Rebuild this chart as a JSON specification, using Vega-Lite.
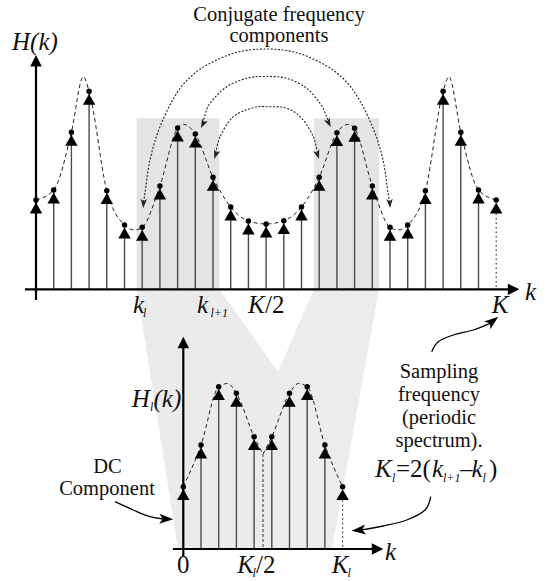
{
"$schema": "https://vega.github.io/schema/vega-lite/v6.json",
"width": 548, "height": 581, "padding": 0,
"autosize": {"type": "fit", "contains": "padding"},
"background": "white",
"config": {"view": {"stroke": null}, "text": {"font": "Liberation Serif, Times New Roman, DejaVu Serif, serif"}},
"datasets": {
"rects": [{"x":136.7,"x2":219.3,"y":118.3,"y2":289.3},{"x":314,"x2":379,"y":118.3,"y2":289.3}],
"bandL": [{"y":289.3,"x":136.7,"x2":219.3},{"y":372,"x":150,"x2":278},{"y":549,"x":178,"x2":278}],
"bandR": [{"y":289.3,"x":314,"x2":379},{"y":372,"x":278,"x2":364},{"y":549,"x":278,"x2":332}],
"top": [
{"k":0,"x":36,"y":200},{"k":1,"x":53.7,"y":190},{"k":2,"x":71.4,"y":132.3},{"k":3,"x":89.1,"y":91.3},
{"k":4,"x":106.8,"y":190.7},{"k":5,"x":124.5,"y":225},{"k":6,"x":142.2,"y":227.3},{"k":7,"x":159.9,"y":186},
{"k":8,"x":177.6,"y":128},{"k":9,"x":195.3,"y":134},{"k":10,"x":213,"y":177.3},{"k":11,"x":230.7,"y":207},
{"k":12,"x":248.4,"y":221},{"k":13,"x":266.1,"y":224},{"k":14,"x":283.8,"y":220.7},{"k":15,"x":301.5,"y":207},
{"k":16,"x":319.2,"y":177.3},{"k":17,"x":336.9,"y":132.7},{"k":18,"x":354.6,"y":128.3},{"k":19,"x":372.3,"y":186},
{"k":20,"x":390,"y":227.3},{"k":21,"x":407.7,"y":225},{"k":22,"x":425.4,"y":190.7},{"k":23,"x":443.1,"y":91.3},
{"k":24,"x":460.8,"y":132.3},{"k":25,"x":478.5,"y":190},{"k":26,"x":496.2,"y":200}],
"topEnv": [
{"x":36,"y":200},{"x":53.7,"y":190},{"x":71.4,"y":132.3},{"x":83.3,"y":76.7},{"x":89.1,"y":91.3},
{"x":106.8,"y":190.7},{"x":124.5,"y":225},{"x":134,"y":230},{"x":142.2,"y":227.3},{"x":159.9,"y":186},
{"x":177.6,"y":128},{"x":183.3,"y":124.3},{"x":195.3,"y":134},{"x":213,"y":177.3},{"x":230.7,"y":207},
{"x":248.4,"y":221},{"x":266.1,"y":224},{"x":283.8,"y":220.7},{"x":301.5,"y":207},{"x":319.2,"y":177.3},
{"x":336.9,"y":132.7},{"x":348.7,"y":124.3},{"x":354.6,"y":128.3},{"x":372.3,"y":186},{"x":390,"y":227.3},
{"x":398,"y":230},{"x":407.7,"y":225},{"x":425.4,"y":190.7},{"x":443.1,"y":91.3},{"x":448.9,"y":76.7},
{"x":460.8,"y":132.3},{"x":478.5,"y":190},{"x":496.2,"y":200}],
"bottom": [
{"k":0,"x":183.3,"y":486.7},{"k":1,"x":201,"y":445},{"k":2,"x":218.7,"y":386.7},{"k":3,"x":236.4,"y":393.3},
{"k":4,"x":254.1,"y":436.7},{"k":5,"x":271.8,"y":436.7},{"k":6,"x":289.5,"y":393.3},{"k":7,"x":307.2,"y":386.7},
{"k":8,"x":324.9,"y":445},{"k":9,"x":342.6,"y":486.7}],
"botEnv": [
{"s":"a","x":183.3,"y":486.7},{"s":"a","x":201,"y":445},{"s":"a","x":218.7,"y":386.7},{"s":"a","x":227.5,"y":383.5},
{"s":"a","x":236.4,"y":393.3},{"s":"a","x":254.1,"y":436.7},{"s":"a","x":263,"y":454},
{"s":"b","x":263,"y":454},{"s":"b","x":271.8,"y":436.7},{"s":"b","x":289.5,"y":393.3},{"s":"b","x":298.5,"y":383.5},
{"s":"b","x":307.2,"y":386.7},{"s":"b","x":324.9,"y":445},{"s":"b","x":342.6,"y":486.7}],
"mid": [{"x":263,"y":454,"y2":549}],
"axes": [{"x":36,"y":300,"x2":36,"y2":64},{"x":25,"y":289.3,"x2":510,"y2":289.3},
{"x":183.3,"y":557,"x2":183.3,"y2":346},{"x":173,"y":549,"x2":374,"y2":549}],
"axisHeads": [{"x":36,"y":55,"dir":0},{"x":519.3,"y":289.3,"dir":90},{"x":183.3,"y":336.7,"dir":0},{"x":383.3,"y":549,"dir":90}],
"arcs": [
{"arc":"o","i":0,"x":143.5,"y":202},{"arc":"o","i":1,"x":145,"y":193},{"arc":"o","i":2,"x":150,"y":160},
{"arc":"o","i":3,"x":160,"y":126.7},{"arc":"o","i":4,"x":176.7,"y":93.3},{"arc":"o","i":5,"x":195,"y":73},
{"arc":"o","i":6,"x":216.7,"y":60},{"arc":"o","i":7,"x":240,"y":51.5},{"arc":"o","i":8,"x":266,"y":49},
{"arc":"o","i":9,"x":292,"y":51.5},{"arc":"o","i":10,"x":315.3,"y":60},{"arc":"o","i":11,"x":337,"y":73},
{"arc":"o","i":12,"x":355.3,"y":93.3},{"arc":"o","i":13,"x":372.5,"y":126.7},{"arc":"o","i":14,"x":383,"y":160},
{"arc":"o","i":15,"x":388,"y":193},{"arc":"o","i":16,"x":389.8,"y":202},
{"arc":"m","i":0,"x":203,"y":123},{"arc":"m","i":1,"x":205,"y":115},{"arc":"m","i":2,"x":210,"y":103.3},
{"arc":"m","i":3,"x":226.7,"y":86.7},{"arc":"m","i":4,"x":246.7,"y":78.3},{"arc":"m","i":5,"x":265,"y":76.5},
{"arc":"m","i":6,"x":286.7,"y":78.3},{"arc":"m","i":7,"x":306.7,"y":88.3},{"arc":"m","i":8,"x":320,"y":103.3},
{"arc":"m","i":9,"x":326,"y":115},{"arc":"m","i":10,"x":328.5,"y":122},
{"arc":"n","i":0,"x":216,"y":153},{"arc":"n","i":1,"x":220,"y":136.7},{"arc":"n","i":2,"x":233.3,"y":116.7},
{"arc":"n","i":3,"x":253.3,"y":107.7},{"arc":"n","i":4,"x":266.7,"y":106.7},{"arc":"n","i":5,"x":286.7,"y":108.3},
{"arc":"n","i":6,"x":301.7,"y":118.3},{"arc":"n","i":7,"x":313.3,"y":136.7},{"arc":"n","i":8,"x":317.5,"y":153}],
"arcHeads": [{"x":143.3,"y":208,"dir":183},{"x":390,"y":208,"dir":177},{"x":201,"y":128,"dir":206},
{"x":330.7,"y":127,"dir":154},{"x":214.3,"y":159,"dir":198},{"x":319,"y":159,"dir":162}],
"notes": [
{"c":"dc","i":0,"x":115,"y":501.7},{"c":"dc","i":1,"x":133.3,"y":510},{"c":"dc","i":2,"x":150,"y":516.7},{"c":"dc","i":3,"x":163,"y":519},
{"c":"fs","i":0,"x":431.7,"y":351.7},{"c":"fs","i":1,"x":438.3,"y":341.7},{"c":"fs","i":2,"x":453.3,"y":335},{"c":"fs","i":3,"x":473.3,"y":330},{"c":"fs","i":4,"x":490,"y":323.3},
{"c":"kl","i":0,"x":430.7,"y":496.7},{"c":"kl","i":1,"x":425,"y":510},{"c":"kl","i":2,"x":406.7,"y":520},{"c":"kl","i":3,"x":383.3,"y":526},{"c":"kl","i":4,"x":362,"y":529.8}],
"noteHeads": [{"x":173.3,"y":519.3,"dir":92},{"x":498.3,"y":316.7,"dir":52},{"x":351.7,"y":530.7,"dir":265}],
"tReg": [{"x":279,"y":20.5,"text":"Conjugate frequency"},{"x":279,"y":42,"text":"components"},
{"x":107.5,"y":473.3,"text":"DC"},{"x":107,"y":495,"text":"Component"},
{"x":439,"y":378,"text":"Sampling"},{"x":439,"y":401,"text":"frequency"},{"x":439,"y":424,"text":"(periodic"},{"x":439,"y":447,"text":"spectrum)."}],
"tIt": [{"x":12,"y":50,"text":"H(k)"},{"x":133,"y":313,"text":"k"},{"x":197,"y":313,"text":"k"},{"x":248,"y":313,"text":"K"},
{"x":491.7,"y":313,"text":"K"},{"x":525,"y":300,"text":"k"},{"x":385,"y":560,"text":"k"},{"x":131.7,"y":407,"text":"H"},
{"x":153.5,"y":407,"text":"(k)"},{"x":237.3,"y":573,"text":"K"},{"x":331.7,"y":573,"text":"K"},{"x":375,"y":477,"text":"K"},
{"x":432,"y":477,"text":"k"},{"x":471.5,"y":477,"text":"k"}],
"tUp": [{"x":265,"y":313,"text":"/2"},{"x":256,"y":573,"text":"/2"},{"x":177,"y":573,"text":"0"},
{"x":396,"y":477,"text":"=2("},{"x":460,"y":477,"text":"–"},{"x":489,"y":477,"text":")"}],
"tSub": [{"x":143,"y":317,"text":"l"},{"x":210.5,"y":317,"text":"l+1"},{"x":252.5,"y":577,"text":"l"},{"x":347.5,"y":577,"text":"l"},
{"x":150,"y":411,"text":"l"},{"x":392,"y":481.5,"text":"l"},{"x":443,"y":481.5,"text":"l+1"},{"x":482.5,"y":481.5,"text":"l"}]
},
"encoding": {
"x": {"field":"x","type":"quantitative","scale":{"domain":[0,548],"nice":false,"zero":false},"axis":null,"stack":null},
"y": {"field":"y","type":"quantitative","scale":{"domain":[0,581],"reverse":true,"nice":false,"zero":false},"axis":null,"stack":null}
},
"layer": [
{"data":{"name":"rects"},"mark":{"type":"rect","color":"#e4e4e4"},"encoding":{"x2":{"field":"x2"},"y2":{"field":"y2"}}},
{"data":{"name":"bandL"},"mark":{"type":"area","orient":"horizontal","color":"#ebebeb"},"encoding":{"x2":{"field":"x2"}}},
{"data":{"name":"bandR"},"mark":{"type":"area","orient":"horizontal","color":"#ececec"},"encoding":{"x2":{"field":"x2"}}},
{"data":{"name":"top"},"layer":[
 {"transform":[{"filter":"datum.k < 26"}],"mark":{"type":"rule","color":"#4a4a4a","strokeWidth":1.4},"encoding":{"y2":{"datum":289.3}}},
 {"transform":[{"filter":"datum.k == 26"}],"mark":{"type":"rule","color":"#333","strokeWidth":1.2,"strokeDash":[1.5,3]},"encoding":{"y2":{"datum":289.3}}}
]},
{"data":{"name":"bottom"},"layer":[
 {"transform":[{"filter":"datum.k < 9"}],"mark":{"type":"rule","color":"#4a4a4a","strokeWidth":1.4},"encoding":{"y2":{"datum":549}}},
 {"transform":[{"filter":"datum.k == 9"}],"mark":{"type":"rule","color":"#333","strokeWidth":1.2,"strokeDash":[1.5,3]},"encoding":{"y2":{"datum":549}}}
]},
{"data":{"name":"mid"},"mark":{"type":"rule","color":"#333","strokeWidth":1,"strokeDash":[3,2]},"encoding":{"y2":{"field":"y2"}}},
{"data":{"name":"topEnv"},"mark":{"type":"line","interpolate":"monotone","color":"#222","strokeWidth":1,"strokeDash":[4,3]},"encoding":{}},
{"data":{"name":"botEnv"},"mark":{"type":"line","interpolate":"monotone","color":"#222","strokeWidth":1,"strokeDash":[4,3]},"encoding":{"detail":{"field":"s"}}},
{"data":{"name":"top"},"layer":[
 {"mark":{"type":"point","shape":"circle","filled":true,"size":30,"color":"black","opacity":1},"encoding":{}},
 {"mark":{"type":"point","shape":"triangle-up","filled":true,"size":156,"color":"black","opacity":1,"yOffset":8},"encoding":{}}
]},
{"data":{"name":"bottom"},"layer":[
 {"mark":{"type":"point","shape":"circle","filled":true,"size":30,"color":"black","opacity":1},"encoding":{}},
 {"mark":{"type":"point","shape":"triangle-up","filled":true,"size":156,"color":"black","opacity":1,"yOffset":8},"encoding":{}}
]},
{"data":{"name":"axes"},"mark":{"type":"rule","color":"black","strokeWidth":2.2},"encoding":{"x2":{"field":"x2"},"y2":{"field":"y2"}}},
{"data":{"name":"axisHeads"},"mark":{"type":"point","shape":"M0,0L0.5,1L-0.5,1Z","filled":true,"size":529,"color":"black","opacity":1,"strokeWidth":0},"encoding":{"angle":{"field":"dir","type":"quantitative","scale":null}}},
{"data":{"name":"arcs"},"mark":{"type":"line","interpolate":"cardinal","color":"#222","strokeWidth":1.1,"strokeDash":[2,1.6]},"encoding":{"detail":{"field":"arc"},"order":{"field":"i","type":"quantitative"}}},
{"data":{"name":"arcHeads"},"mark":{"type":"point","shape":"M0,0L0.5,1.4L0,1.05L-0.5,1.4Z","filled":true,"size":169,"color":"#222","opacity":1,"strokeWidth":0},"encoding":{"angle":{"field":"dir","type":"quantitative","scale":null}}},
{"data":{"name":"notes"},"mark":{"type":"line","interpolate":"cardinal","color":"black","strokeWidth":1.3},"encoding":{"detail":{"field":"c"},"order":{"field":"i","type":"quantitative"}}},
{"data":{"name":"noteHeads"},"mark":{"type":"point","shape":"M0,0L0.5,1.4L0,1.05L-0.5,1.4Z","filled":true,"size":400,"color":"black","opacity":1,"strokeWidth":0},"encoding":{"angle":{"field":"dir","type":"quantitative","scale":null}}},
{"data":{"name":"tReg"},"mark":{"type":"text","font":"Liberation Serif, Times New Roman, DejaVu Serif, serif","fontSize":20.5,"align":"center","baseline":"alphabetic","color":"#111"},"encoding":{"text":{"field":"text"}}},
{"data":{"name":"tIt"},"mark":{"type":"text","font":"Liberation Serif, Times New Roman, DejaVu Serif, serif","fontSize":25,"fontStyle":"italic","align":"left","baseline":"alphabetic","color":"#111"},"encoding":{"text":{"field":"text"}}},
{"data":{"name":"tUp"},"mark":{"type":"text","font":"Liberation Serif, Times New Roman, DejaVu Serif, serif","fontSize":25,"align":"left","baseline":"alphabetic","color":"#111"},"encoding":{"text":{"field":"text"}}},
{"data":{"name":"tSub"},"mark":{"type":"text","font":"Liberation Serif, Times New Roman, DejaVu Serif, serif","fontSize":12,"fontStyle":"italic","align":"left","baseline":"alphabetic","color":"#111"},"encoding":{"text":{"field":"text"}}}
]
}
